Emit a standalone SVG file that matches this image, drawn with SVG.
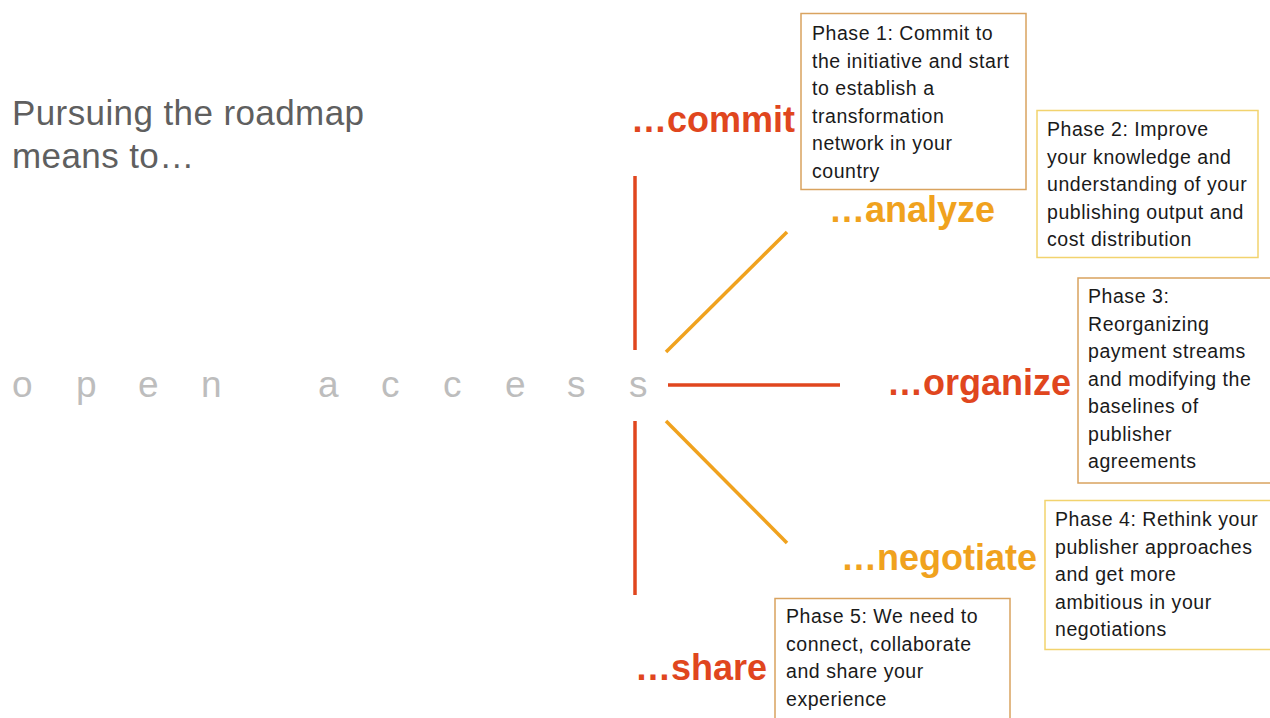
<svg xmlns="http://www.w3.org/2000/svg" width="1270" height="718" viewBox="0 0 1270 718">
<style>
.title{font-family:"Liberation Sans",Arial,sans-serif;font-size:35px;letter-spacing:0.4px;fill:#5f5f5f}
.oa{font-family:"Liberation Sans",Arial,sans-serif;font-size:37px;fill:#bdbdbd}
.verb{font-family:"Liberation Sans",Arial,sans-serif;font-size:36px;font-weight:bold}
.red{fill:#e0461e}
.org{fill:#f0a21e}
.box{fill:#fff;stroke-width:1.5}
.bt{font-family:"Liberation Sans",Arial,sans-serif;font-size:19.5px;letter-spacing:0.55px;fill:#1a1a1a}
.lr{stroke:#e0461e;stroke-width:3.5;fill:none}
.lo{stroke:#f0a21e;stroke-width:3.5;fill:none}
</style>
<rect width="1270" height="718" fill="#fff"/>
<g id="title">
<text class="title" x="12" y="125">Pursuing the roadmap</text>
<text class="title" x="12" y="168">means to…</text>
</g>
<g id="open-access">
<text class="oa" x="12" y="397">o</text>
<text class="oa" x="76" y="397">p</text>
<text class="oa" x="138" y="397">e</text>
<text class="oa" x="201" y="397">n</text>
<text class="oa" x="318" y="397">a</text>
<text class="oa" x="381" y="397">c</text>
<text class="oa" x="443" y="397">c</text>
<text class="oa" x="505" y="397">e</text>
<text class="oa" x="567" y="397">s</text>
<text class="oa" x="629" y="397">s</text>
</g>
<g id="connectors">
<line class="lr" x1="635" y1="176" x2="635" y2="350"/>
<line class="lr" x1="635" y1="421" x2="635" y2="595"/>
<line class="lr" x1="668" y1="385" x2="840" y2="385"/>
<line class="lo" x1="666" y1="352" x2="787" y2="232"/>
<line class="lo" x1="666" y1="421" x2="787" y2="543"/>
</g>
<g id="commit">
<text class="verb red" x="631" y="132">…commit</text>
</g>
<g id="analyze">
<text class="verb org" x="829" y="222">…analyze</text>
</g>
<g id="organize">
<text class="verb red" x="887" y="395">…organize</text>
</g>
<g id="negotiate">
<text class="verb org" x="841" y="570">…negotiate</text>
</g>
<g id="share">
<text class="verb red" x="635" y="680">…share</text>
</g>
<g id="phase1">
<rect class="box" x="801" y="13.5" width="225" height="176" stroke="#d9a35f"/>
<text class="bt" x="812" y="40">Phase 1: Commit to</text>
<text class="bt" x="812" y="67.5">the initiative and start</text>
<text class="bt" x="812" y="95">to establish a</text>
<text class="bt" x="812" y="122.5">transformation</text>
<text class="bt" x="812" y="150">network in your</text>
<text class="bt" x="812" y="177.5">country</text>
</g>
<g id="phase2">
<rect class="box" x="1037" y="110.5" width="221" height="147" stroke="#f2d36e"/>
<text class="bt" x="1047" y="136">Phase 2: Improve</text>
<text class="bt" x="1047" y="163.5">your knowledge and</text>
<text class="bt" x="1047" y="191">understanding of your</text>
<text class="bt" x="1047" y="218.5">publishing output and</text>
<text class="bt" x="1047" y="246">cost distribution</text>
</g>
<g id="phase3">
<rect class="box" x="1078" y="278" width="200" height="205" stroke="#d9a35f"/>
<text class="bt" x="1088" y="303">Phase 3:</text>
<text class="bt" x="1088" y="330.5">Reorganizing</text>
<text class="bt" x="1088" y="358">payment streams</text>
<text class="bt" x="1088" y="385.5">and modifying the</text>
<text class="bt" x="1088" y="413">baselines of</text>
<text class="bt" x="1088" y="440.5">publisher</text>
<text class="bt" x="1088" y="468">agreements</text>
</g>
<g id="phase4">
<rect class="box" x="1045" y="500.5" width="230" height="149" stroke="#f2d36e"/>
<text class="bt" x="1055" y="526">Phase 4: Rethink your</text>
<text class="bt" x="1055" y="553.5">publisher approaches</text>
<text class="bt" x="1055" y="581">and get more</text>
<text class="bt" x="1055" y="608.5">ambitious in your</text>
<text class="bt" x="1055" y="636">negotiations</text>
</g>
<g id="phase5">
<rect class="box" x="775" y="598.5" width="235" height="130" stroke="#d9a35f"/>
<text class="bt" x="786" y="623">Phase 5: We need to</text>
<text class="bt" x="786" y="650.5">connect, collaborate</text>
<text class="bt" x="786" y="678">and share your</text>
<text class="bt" x="786" y="705.5">experience</text>
</g>
</svg>
